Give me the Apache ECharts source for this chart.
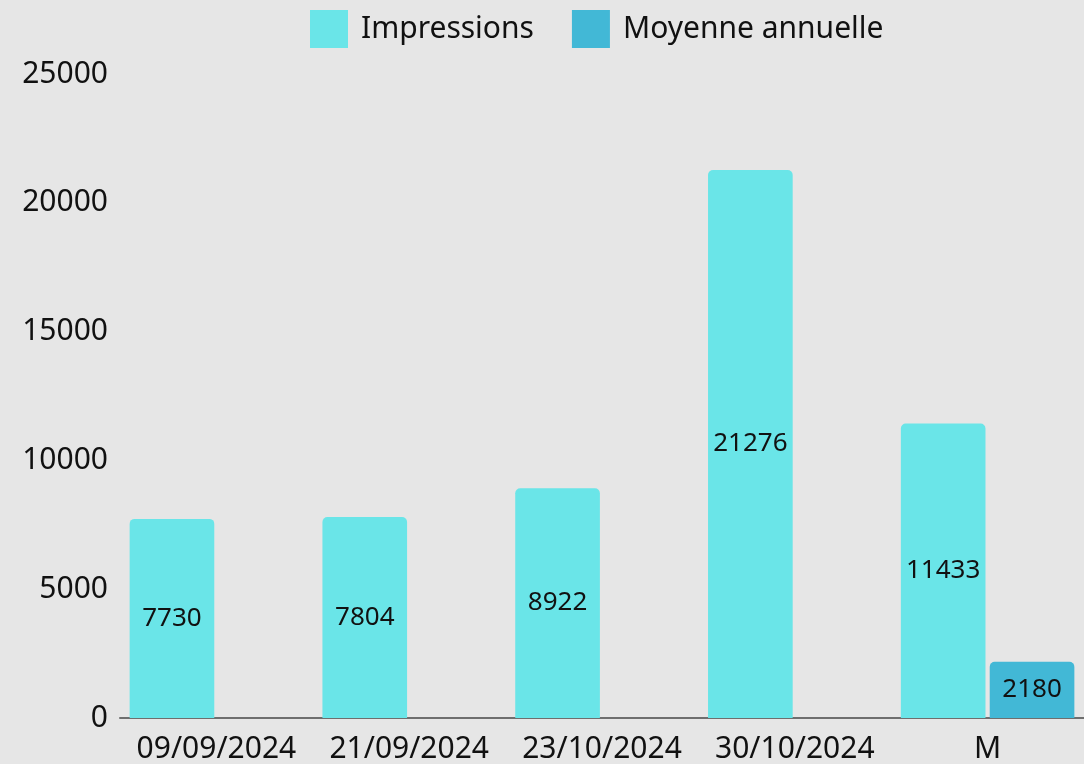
<!DOCTYPE html>
<html>
<head>
<meta charset="utf-8">
<script src="https://cdn.jsdelivr.net/npm/echarts@6/dist/echarts.min.js"></script>
<style>
  html, body { margin: 0; padding: 0; background: #e6e6e6; }
  #main { width: 1084px; height: 764px; }
</style>
</head>
<body>
<div id="main"></div>
<script>
var categories = ['09/09/2024', '21/09/2024', '23/10/2024', '30/10/2024', 'M'];
var impressions = [7730, 7804, 8922, 21276, 11433];
var moyenne = ['-', '-', '-', '-', 2180];
var yTicks = { min: 0, max: 25000, interval: 5000 };

var myChart = echarts.init(document.getElementById('main'));

var labelStyle = {
    show: true,
    position: 'inside',
    color: '#111',
    fontSize: 26,
    fontFamily: 'Noto Sans'
};

var option = {
    backgroundColor: '#e6e6e6',
    textStyle: { fontFamily: 'Noto Sans' },
    legend: {
        top: 5,
        left: 305,
        itemWidth: 38,
        itemHeight: 38,
        itemGap: 38,
        icon: 'rect',
        textStyle: {
            fontSize: 30,
            color: '#111',
            fontFamily: 'Noto Sans',
            padding: [0, 0, 0, 8]
        },
        data: ['Impressions', 'Moyenne annuelle']
    },
    grid: {
        top: 74,
        bottom: 46,
        left: 120,
        right: 0
    },
    xAxis: {
        type: 'category',
        data: categories,
        axisTick: { show: false },
        axisLine: { lineStyle: { color: '#6e6e6e', width: 2 } },
        axisLabel: {
            color: '#111',
            fontSize: 30,
            margin: 16,
            interval: 0
        }
    },
    yAxis: {
        type: 'value',
        min: yTicks.min,
        max: yTicks.max,
        interval: yTicks.interval,
        splitLine: { show: false },
        axisLine: { show: false },
        axisTick: { show: false },
        axisLabel: {
            color: '#111',
            fontSize: 30,
            margin: 12,
            formatter: function (v) { return String(v); }
        }
    },
    series: [
        {
            name: 'Impressions',
            type: 'bar',
            barCategoryGap: '10%',
            barGap: '5%',
            itemStyle: { color: '#6ae5e8', borderRadius: [5, 5, 0, 0] },
            label: labelStyle,
            data: impressions
        },
        {
            name: 'Moyenne annuelle',
            type: 'bar',
            itemStyle: { color: '#42b8d6', borderRadius: [5, 5, 0, 0] },
            label: labelStyle,
            data: moyenne
        }
    ],
    animation: false
};

myChart.setOption(option);
</script>
</body>
</html>
